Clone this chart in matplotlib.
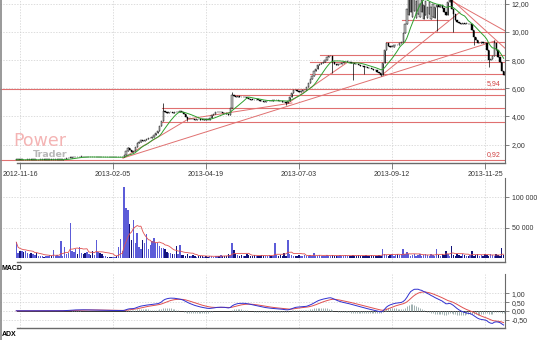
import numpy as np
import pandas as pd
import matplotlib
matplotlib.use("Agg")
import matplotlib.pyplot as plt

# ---------------- data ----------------
# daily closing prices (one value per session)
close = [
    0.92, 0.93, 0.92, 0.92, 0.91, 0.92, 0.92, 0.93, 0.92, 0.92,
    0.92, 0.91, 0.92, 0.92, 0.93, 0.92, 0.92, 0.92, 0.93, 0.92,
    0.92, 0.92, 0.92, 0.93, 0.94, 0.95, 0.98, 1.02, 1.06, 1.08,
    1.10, 1.12, 1.13, 1.12, 1.13, 1.14, 1.12, 1.11, 1.12, 1.13,
    1.12, 1.10, 1.11, 1.12, 1.12, 1.11, 1.10, 1.11, 1.12, 1.11,
    1.10, 1.09, 1.10, 1.11, 1.10, 1.10, 1.11, 1.12, 1.25, 1.55,
    1.75, 1.60, 1.50, 1.55, 1.85, 2.15, 2.20, 2.30, 2.25, 2.35,
    2.40, 2.45, 2.50, 2.57, 2.70, 2.85, 2.95, 3.30, 3.70, 4.40,
    4.30, 4.25, 4.30, 4.32, 4.28, 4.35, 4.30, 4.33, 4.38, 4.30,
    4.15, 3.95, 3.85, 3.82, 3.85, 3.80, 3.78, 3.82, 3.80, 3.78,
    3.76, 3.80, 3.78, 3.76, 3.90, 4.10, 4.20, 4.30, 4.35, 4.30,
    4.33, 4.28, 4.25, 4.15, 4.10, 4.60, 5.50, 5.45, 5.40, 5.42,
    5.38, 5.35, 5.38, 5.37, 5.30, 5.25, 5.20, 5.18, 5.15, 5.20,
    5.18, 5.12, 5.10, 5.06, 5.08, 5.10, 5.12, 5.10, 5.14, 5.16,
    5.18, 5.12, 5.08, 5.06, 5.02, 4.98, 5.10, 5.40, 5.70, 5.90,
    5.85, 5.80, 5.77, 5.82, 5.86, 5.90, 6.10, 6.40, 6.65, 6.85,
    7.20, 7.40, 7.65, 7.70, 7.78, 7.90, 8.00, 8.20, 8.28, 8.30,
    7.90, 7.75, 7.66, 7.70, 7.75, 7.80, 7.85, 7.88, 7.90, 7.85,
    7.80, 7.78, 7.75, 7.70, 7.66, 7.62, 7.58, 7.54, 7.50, 7.45,
    7.42, 7.38, 7.32, 7.28, 7.18, 7.10, 6.98, 7.80, 8.72, 9.20,
    9.00, 8.95, 8.96, 9.05, 9.10, 9.08, 9.20, 9.31, 9.90, 10.60,
    11.60, 12.50, 12.80, 12.40, 12.60, 12.20, 12.40, 12.00, 12.30, 11.90,
    12.20, 11.80, 12.10, 11.80, 12.00, 11.80, 11.90, 11.80, 11.90, 11.70,
    11.40, 11.20, 12.10, 12.40, 11.60, 11.30, 10.85, 10.70, 10.65, 10.60,
    10.62, 10.58, 10.60, 10.55, 10.60, 10.14, 9.67, 9.40, 9.20, 9.25,
    9.30, 9.25, 9.20, 8.72, 8.00, 8.10, 8.30, 9.20, 8.70, 8.25,
    7.90, 7.20, 6.95,
]
# sessions that opened away from the previous close
open_gap = {
    211: 11.20, 212: 11.40, 213: 11.10, 214: 11.50, 215: 11.00, 216: 11.30,
    217: 11.10, 218: 11.40, 219: 10.95, 220: 11.20, 221: 11.00, 222: 11.30,
    223: 10.90, 224: 11.10, 225: 11.00,
}
# intraday extremes that stand out from the bodies
wick_high = {79: 4.96, 116: 5.77, 233: 12.6, 257: 9.43, 60: 1.8}
wick_low = {170: 7.10, 181: 6.60, 187: 7.02, 196: 6.88, 226: 10.1,
            235: 10.0, 246: 9.08, 254: 7.54, 92: 3.70, 145: 4.85}

# session volume, thousands of shares
volume_k = [
    26, 9, 12, 11, 10, 12, 8, 7, 9, 6,
    5, 8, 3, 4, 3, 2, 4, 3, 5, 3,
    13, 4, 5, 3, 28, 4, 18, 6, 8, 57,
    12, 10, 14, 6, 18, 9, 7, 8, 10, 6,
    5, 12, 5, 29, 10, 9, 7, 4, 3, 2,
    1, 2, 1, 2, 3, 18, 31, 12, 116, 82,
    78, 55, 30, 62, 25, 41, 18, 15, 30, 25,
    39, 15, 22, 28, 33, 25, 24, 20, 17, 16,
    14, 10, 9, 8, 7, 6, 20, 6, 21, 5,
    5, 4, 6, 3, 4, 5, 3, 2, 3, 4,
    3, 2, 3, 2, 4, 3, 2, 3, 3, 4,
    5, 3, 4, 3, 6, 5, 25, 13, 6, 5,
    4, 5, 3, 4, 6, 5, 4, 3, 5, 4,
    3, 4, 5, 3, 4, 3, 5, 4, 3, 25,
    5, 4, 5, 3, 9, 4, 30, 6, 5, 4,
    3, 4, 5, 3, 4, 5, 3, 4, 5, 3,
    8, 4, 3, 5, 4, 3, 4, 5, 3, 4,
    5, 4, 3, 4, 5, 4, 3, 5, 4, 3,
    4, 5, 3, 4, 5, 4, 3, 4, 5, 4,
    3, 5, 4, 3, 4, 5, 4, 15, 6, 5,
    4, 5, 6, 4, 5, 6, 5, 6, 15, 6,
    10, 6, 4, 5, 6, 4, 5, 6, 4, 5,
    6, 5, 4, 6, 5, 4, 15, 5, 4, 6,
    5, 12, 6, 4, 20, 5, 4, 6, 5, 4,
    6, 5, 4, 4, 5, 12, 4, 5, 6, 4,
    5, 4, 6, 5, 4, 6, 5, 4, 6, 5,
    4, 17, 5,
]

tick_idx = [2, 52, 102, 152, 202, 252]
tick_lbl = ["2012-11-16", "2013-02-05", "2013-04-19",
            "2013-07-03", "2013-09-12", "2013-11-25"]

price_ticks = [2, 4, 6, 8, 10, 12]
vol_ticks = [50000, 100000]
macd_ticks = [-0.5, 0.0, 0.5, 1.0]

# support / resistance levels: (first session, price, last session)
levels = [
    (None, 0.92, None), (None, 5.94, None),
    (78.3, 3.64, None), (78.3, 4.58, None), (116.0, 5.53, None),
    (157.9, 7.02, None), (157.9, 7.85, None), (163.3, 8.36, None),
    (198.8, 9.31, None), (217.0, 10.00, None), (207.4, 10.85, 232.1),
]
# trend lines: (session, price) -> (session, price)
trends = [
    ((57.4, 1.05), (93.4, 3.89)),
    ((57.4, 1.05), (257.4, 9.36)),
    ((92.3, 3.82), (148.2, 4.96)),
    ((145.5, 4.89), (178.3, 7.87)),
    ((196.6, 6.95), (238.6, 11.42)),
    ((233.2, 12.27), (263.8, 10.0)),
    ((234.3, 12.27), (263.8, 8.72)),
]

# ---------------- derived series ----------------
n = len(close)
idx = np.arange(n)
c = np.array(close, dtype=float)
o = np.r_[c[0], c[:-1]]
for k, v in open_gap.items():
    o[k] = v
hi = np.maximum(o, c)
lo = np.minimum(o, c)
for k, v in wick_high.items():
    hi[k] = max(hi[k], v)
for k, v in wick_low.items():
    lo[k] = min(lo[k], v)
vol = np.array(volume_k, dtype=float) * 1000

cs = pd.Series(c)
ma_price = cs.rolling(10, min_periods=1).mean()
ma_vol = pd.Series(vol).rolling(10, min_periods=1).mean()
macd = cs.ewm(span=12, adjust=False).mean() - cs.ewm(span=26, adjust=False).mean()
signal = macd.ewm(span=9, adjust=False).mean()
hist = macd - signal

# ---------------- figure ----------------
W, H = 540, 340
plt.rcParams["font.family"] = ["Liberation Sans", "DejaVu Sans"]
fig = plt.figure(figsize=(W / 100, H / 100), dpi=100)
fig.patch.set_facecolor("white")

def px_axes(x0, y0, x1, y1):
    return fig.add_axes([x0 / W, 1 - y1 / H, (x1 - x0) / W, (y1 - y0) / H])

XL = (-8.75, 262.75)
GRID = dict(color="#cfcfcf", lw=0.5, ls=(0, (2, 2)))
AXC = "#6a6a6a"
FS = 5

def style(ax, yt, ylabels, ylim, show_dates=False):
    ax.set_xlim(*XL)
    ax.set_ylim(*ylim)
    ax.patch.set_alpha(0)
    for s in ("left", "top", "bottom"):
        ax.spines[s].set_visible(False)
    ax.spines["right"].set_color(AXC)
    ax.spines["right"].set_linewidth(0.8)
    ax.yaxis.tick_right()
    ax.set_yticks(yt)
    ax.set_yticklabels(ylabels, fontsize=FS, color="#333333")
    ax.tick_params(axis="y", length=3, width=0.6, color=AXC, pad=2)
    ax.set_xticks(tick_idx)
    if show_dates:
        ax.set_xticklabels(tick_lbl, fontsize=FS, color="#333333")
        ax.tick_params(axis="x", length=4, width=0.6, color=AXC, pad=2)
    else:
        ax.set_xticklabels([])
        ax.tick_params(axis="x", length=0)
    ax.grid(True, **GRID)
    ax.set_axisbelow(True)
    ax.plot([0.5, XL[1]], [ylim[0], ylim[0]], color=AXC, lw=1.0,
            clip_on=False, zorder=5)

# ---- price panel ----
ax_p = px_axes(0, 0, 505, 163)
plim = ((172.8 - 163) / 14.08, 172.8 / 14.08)
style(ax_p, price_ticks, [f"{t:.2f}".replace(".", ",") for t in price_ticks],
      plim, show_dates=True)

# watermark
ax_p.text(-1.8, 1.88, "Power", fontsize=12.5, color="#f4b4b4", zorder=1,
          family="DejaVu Sans")
ax_p.text(9.0, 1.10, "Trader", fontsize=6.8, color="#b8b8b8", zorder=1,
          family="DejaVu Sans", fontweight="bold")

RED = "#e07070"
for s0, lvl, s1 in levels:
    a = XL[0] if s0 is None else s0
    b = XL[1] if s1 is None else s1
    ax_p.plot([a, b], [lvl, lvl], color=RED, lw=0.8, zorder=2)
for (a, pa), (b, pb) in trends:
    ax_p.plot([a, b], [pa, pb], color=RED, lw=0.7, zorder=2)

up = c >= o
ax_p.vlines(idx, lo, hi, color="black", lw=0.5, zorder=3)
body = np.maximum(np.abs(c - o), 0.03)
base = np.minimum(o, c)
ax_p.bar(idx[up], body[up], bottom=base[up], width=0.7,
         color="#c8c8c8", edgecolor="black", lw=0.3, zorder=4)
ax_p.bar(idx[~up], body[~up], bottom=base[~up], width=0.7,
         color="black", edgecolor="black", lw=0.3, zorder=4)
ax_p.plot(idx, ma_price, color="#2ea02e", lw=0.7, zorder=5)

ax_p.text(260.5, 6.2, "5,94", fontsize=FS, color="#d04040", ha="right")
ax_p.text(260.5, 1.18, "0,92", fontsize=FS, color="#d04040", ha="right")

# ---- volume panel ----
ax_v = px_axes(0, 178, 505, 262)
vlim = (-(262 - 258) / 30.5 * 50000, (258 - 178) / 30.5 * 50000)
style(ax_v, vol_ticks, ["50 000", "100 000"], vlim)
ax_v.bar(idx[up], vol[up], width=0.75, color="#5c5cd8", lw=0, zorder=3)
ax_v.bar(idx[~up], vol[~up], width=0.75, color="#12127a", lw=0, zorder=3)
ax_v.plot(idx, ma_vol, color="#e05050", lw=0.6, zorder=4)

# ---- MACD panel ----
ax_m = px_axes(0, 274, 505, 328)
mlim = (-(328 - 310.8) / 17.5, (310.8 - 274) / 17.5)
style(ax_m, macd_ticks, ["-0,50", "0,00", "0,50", "1,00"], mlim)
ax_m.vlines(idx, 0, hist, color="#8fa3a3", lw=0.6, zorder=3)
ax_m.plot([0.5, XL[1]], [0, 0], color="#333333", lw=0.7, zorder=2)
ax_m.plot(idx, signal, color="#e05050", lw=0.7, zorder=4)
ax_m.plot(idx, macd, color="#3030d0", lw=0.7, zorder=5)

fig.text(2 / W, 1 - 269 / H, "MACD", fontsize=5, fontweight="bold", va="center")
fig.text(2 / W, 1 - 335 / H, "ADX", fontsize=5, fontweight="bold", va="center")
fig.add_artist(plt.Line2D([0.7 / W, 0.7 / W], [0, 1], color="#888888", lw=1.2))

fig.savefig("out.png", dpi=100, facecolor="white")
